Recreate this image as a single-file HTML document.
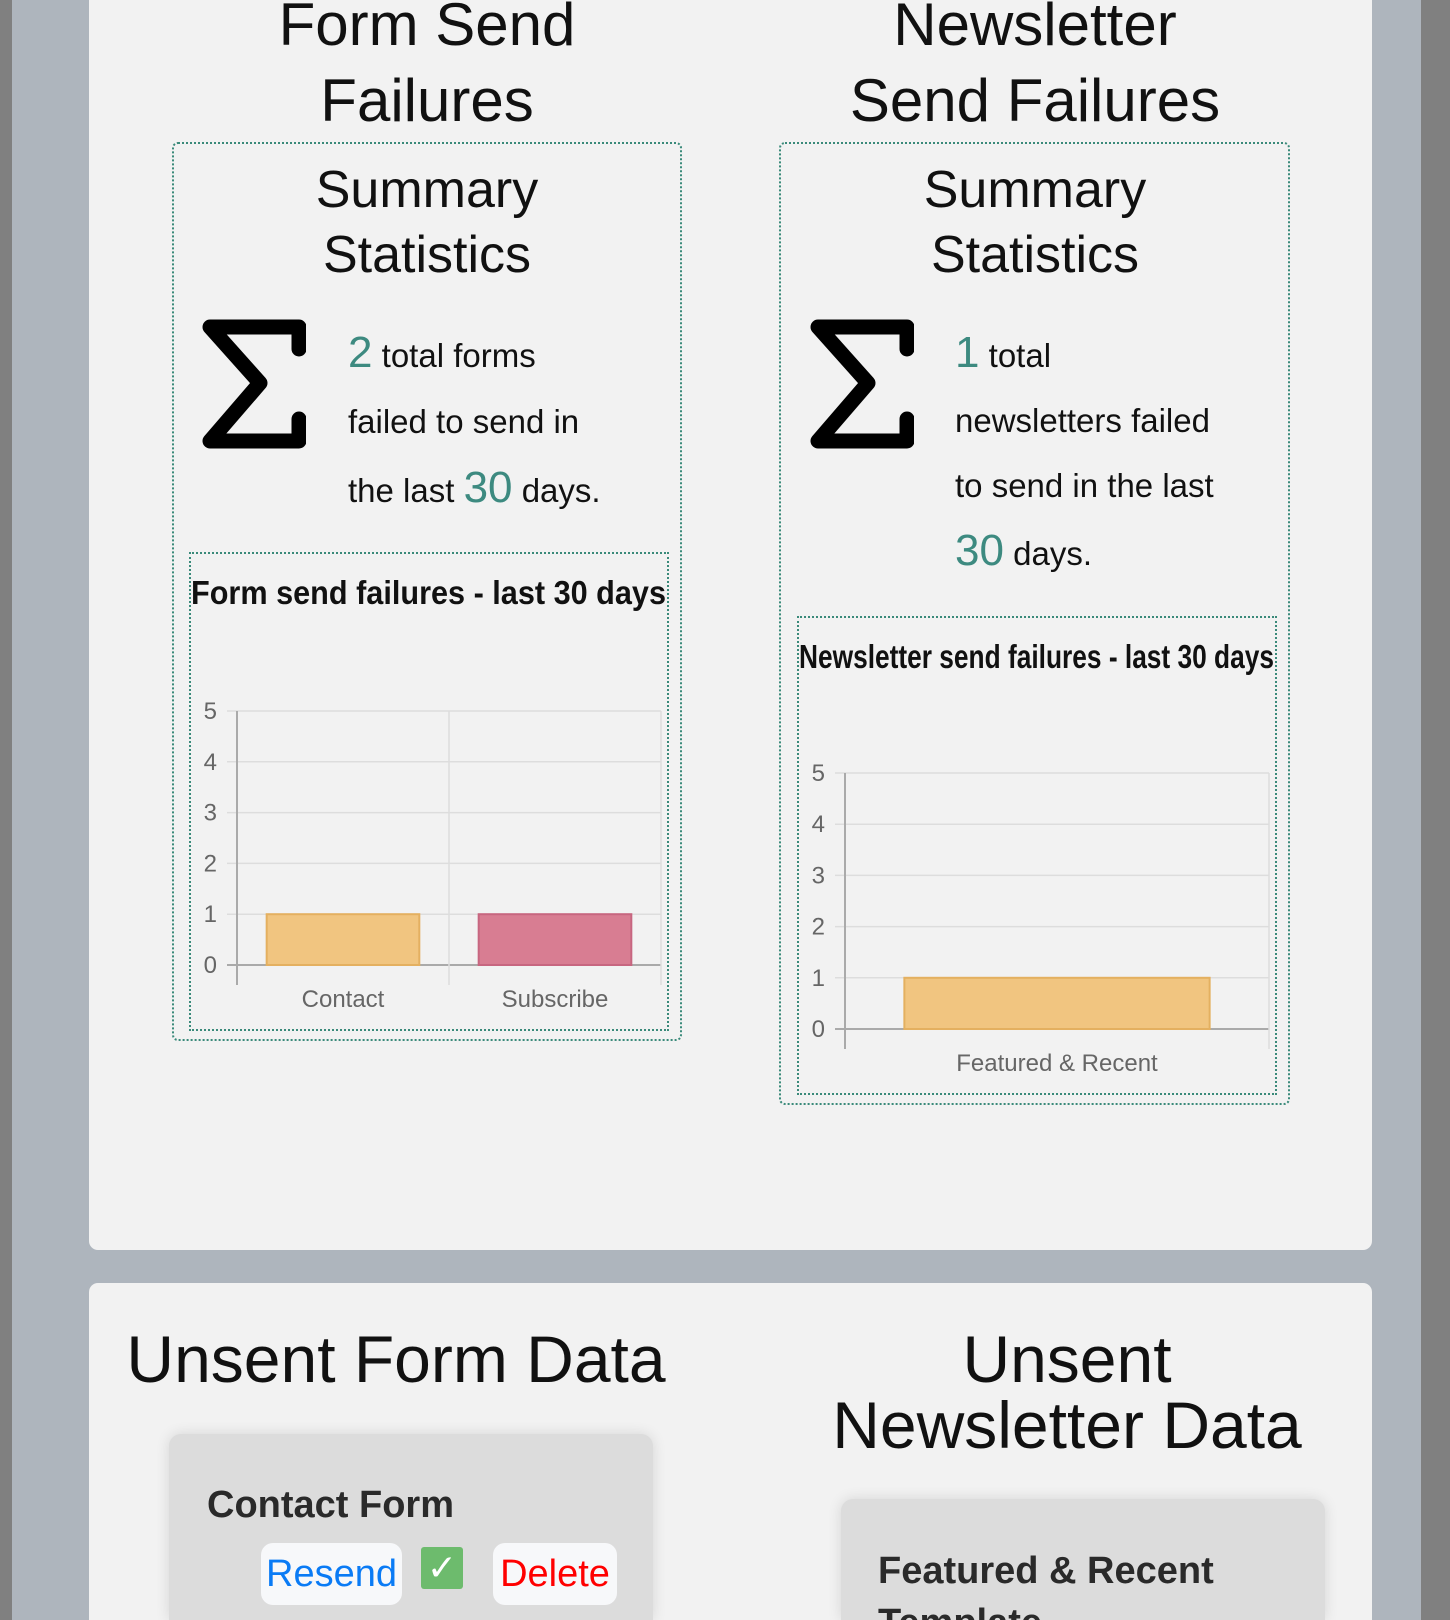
<!DOCTYPE html>
<html><head><meta charset="utf-8">
<style>
*{margin:0;padding:0;box-sizing:border-box}
html,body{width:1450px;height:1620px;overflow:hidden}
#root{position:relative;width:1450px;height:1620px;overflow:hidden;background:#aeb5bd;font-family:"Liberation Sans",sans-serif;color:#111}
.abs{position:absolute}
.card{position:absolute;background:#f2f2f2;border-radius:9px}
.t{position:absolute;white-space:nowrap;text-align:center}
.box{position:absolute;border:2px dotted #3a8a7a;border-radius:6px}
.ibox{position:absolute;border:2px dotted #3a8a7a}
.num{color:#3d8a80;font-size:44px}
.btn{position:absolute;background:#f7f8fa;border-radius:12px;font-size:38px;text-align:center;line-height:62px}
</style></head><body>
<div id="root">
<div class="abs" style="left:0;top:0;width:12px;height:1620px;background:#808080"></div>
<div class="abs" style="left:1421px;top:0;width:29px;height:1620px;background:#808080"></div>

<div class="card" style="left:89px;top:-20px;width:1283px;height:1270px"></div>
<div class="card" style="left:89px;top:1283px;width:1283px;height:337px;border-radius:9px 9px 0 0"></div>

<div class="t" style="left:227px;width:400px;top:-13px;font-size:60px;line-height:76px">Form Send<br>Failures</div>
<div class="t" style="left:785px;width:500px;top:-13px;font-size:60px;line-height:76px">Newsletter<br>Send Failures</div>

<div class="box" style="left:172px;top:142px;width:510px;height:899px"></div>
<div class="box" style="left:779px;top:142px;width:511px;height:963px"></div>

<div class="t" style="left:227px;width:400px;top:158px;font-size:52px;line-height:65px">Summary<br>Statistics</div>
<div class="t" style="left:835px;width:400px;top:158px;font-size:52px;line-height:65px">Summary<br>Statistics</div>

<svg class="abs" style="left:202px;top:319px" width="104" height="130" viewBox="0 0 104 130"><path d="M97 30V8H8L58 64L8 122H97V100" fill="none" stroke="#000" stroke-width="15" stroke-linejoin="round" stroke-linecap="round"/></svg>
<svg class="abs" style="left:810px;top:319px" width="104" height="130" viewBox="0 0 104 130"><path d="M97 30V8H8L58 64L8 122H97V100" fill="none" stroke="#000" stroke-width="15" stroke-linejoin="round" stroke-linecap="round"/></svg>

<div class="abs" style="left:348px;top:320px;font-size:33px;line-height:66px;width:320px">
<span class="num">2</span> total forms<br>failed to send in<br>the last <span class="num">30</span> days.</div>
<div class="abs" style="left:955px;top:320px;font-size:33px;line-height:65px;width:330px">
<span class="num">1</span> total<br>newsletters failed<br>to send in the last<br><span class="num">30</span> days.</div>

<div class="ibox" style="left:189px;top:552px;width:480px;height:479px"></div>
<div class="ibox" style="left:797px;top:616px;width:480px;height:479px"></div>

<svg id="c1" class="abs" style="left:0;top:0" width="1450" height="1620"></svg>

<div class="t" style="left:96px;width:600px;top:1326px;font-size:66px;line-height:66px">Unsent Form Data</div>
<div class="t" style="left:767px;width:600px;top:1326px;font-size:66px;line-height:66px">Unsent<br>Newsletter Data</div>

<div class="abs" style="left:169px;top:1434px;width:484px;height:186px;background:#dcdcdc;border-radius:12px 12px 0 0;box-shadow:0 0 14px rgba(0,0,0,.12)"></div>
<div class="abs" style="left:207px;top:1484px;font-size:38px;font-weight:bold;color:#2a2a2a">Contact Form</div>
<div class="btn" style="left:261px;top:1543px;width:141px;height:62px;color:#0a7bf5">Resend</div>
<div class="abs" style="left:421px;top:1547px;width:42px;height:42px;background:#6dbb6d;border-radius:3px;color:#fff;font-size:36px;line-height:42px;text-align:center">✓</div>
<div class="btn" style="left:493px;top:1543px;width:124px;height:62px;color:#f00">Delete</div>

<div class="abs" style="left:841px;top:1499px;width:484px;height:121px;background:#dcdcdc;border-radius:12px 12px 0 0;box-shadow:0 0 14px rgba(0,0,0,.12);overflow:hidden">
<div class="abs" style="left:37px;top:46px;font-size:38px;font-weight:bold;color:#2a2a2a;line-height:52px;white-space:nowrap">Featured &amp; Recent<br>Template</div>
</div>
</div>
<script>
const formCategories=["Contact","Subscribe"];
const formValues=[1,1];
const newsCategories=["Featured & Recent"];
const newsValues=[1];
const yTicks=[0,1,2,3,4,5];
const NS="http://www.w3.org/2000/svg";
const svg=document.getElementById('c1');
function mk(tag,attrs,parent){const e=document.createElementNS(NS,tag);for(const k in attrs)e.setAttribute(k,attrs[k]);(parent||svg).appendChild(e);return e;}
function chart(cfg,cats,vals,colors,borders,prefix){
  const g=mk('g',{});
  
  
  const t=mk('text',{x:cfg.tx,y:cfg.ty,'font-size':33,'font-weight':'bold',fill:'#111',textLength:cfg.tl,lengthAdjust:'spacingAndGlyphs'},g);
  t.textContent=cfg.title;
  
  
  const ymax=5;
  const y=v=>cfg.y0-(cfg.y0-cfg.y5)*v/ymax;
  const bw=(cfg.x1-cfg.x0)/cats.length;
  const x=i=>cfg.x0+bw*i;
  yTicks.forEach(v=>{
    mk('line',{x1:cfg.x0-10,x2:cfg.x1,y1:y(v),y2:y(v),stroke:v===0?'#aaa':'#ddd','stroke-width':v===0?2:1.5},g);
    const lb=mk('text',{x:cfg.x0-20,y:y(v)+8,'font-size':24,fill:'#666','text-anchor':'end'},g);
    lb.textContent=v;
    
    
  });
  for(let i=0;i<=cats.length;i++){
    mk('line',{x1:x(i),x2:x(i),y1:cfg.y5,y2:cfg.y0+20,stroke:i===0?'#aaa':'#ddd','stroke-width':i===0?2:1.5},g);
  }
  cats.forEach((c,i)=>{
    const pad=bw*0.14;
    const r=mk('rect',{x:x(i)+pad,y:y(vals[i]),width:bw-2*pad,height:y(0)-y(vals[i]),fill:colors[i],stroke:borders[i],'stroke-width':2},g);
    
    
    const lb=mk('text',{x:x(i)+bw/2,y:cfg.y0+42,'font-size':24,fill:'#666','text-anchor':'middle'},g);
    lb.textContent=c;
    
    
  });
}
chart({title:"Form send failures - last 30 days",tx:191,ty:604,tl:475,x0:237,x1:661,y5:711,y0:965},formCategories,formValues,["#f1c580","#d87d92"],["#e4b060","#c76680"],'form');
chart({title:"Newsletter send failures - last 30 days",tx:799,ty:668,tl:475,x0:845,x1:1269,y5:773,y0:1029},newsCategories,newsValues,["#f1c580"],["#e4b060"],'newsletter');
</script>
</body></html>
